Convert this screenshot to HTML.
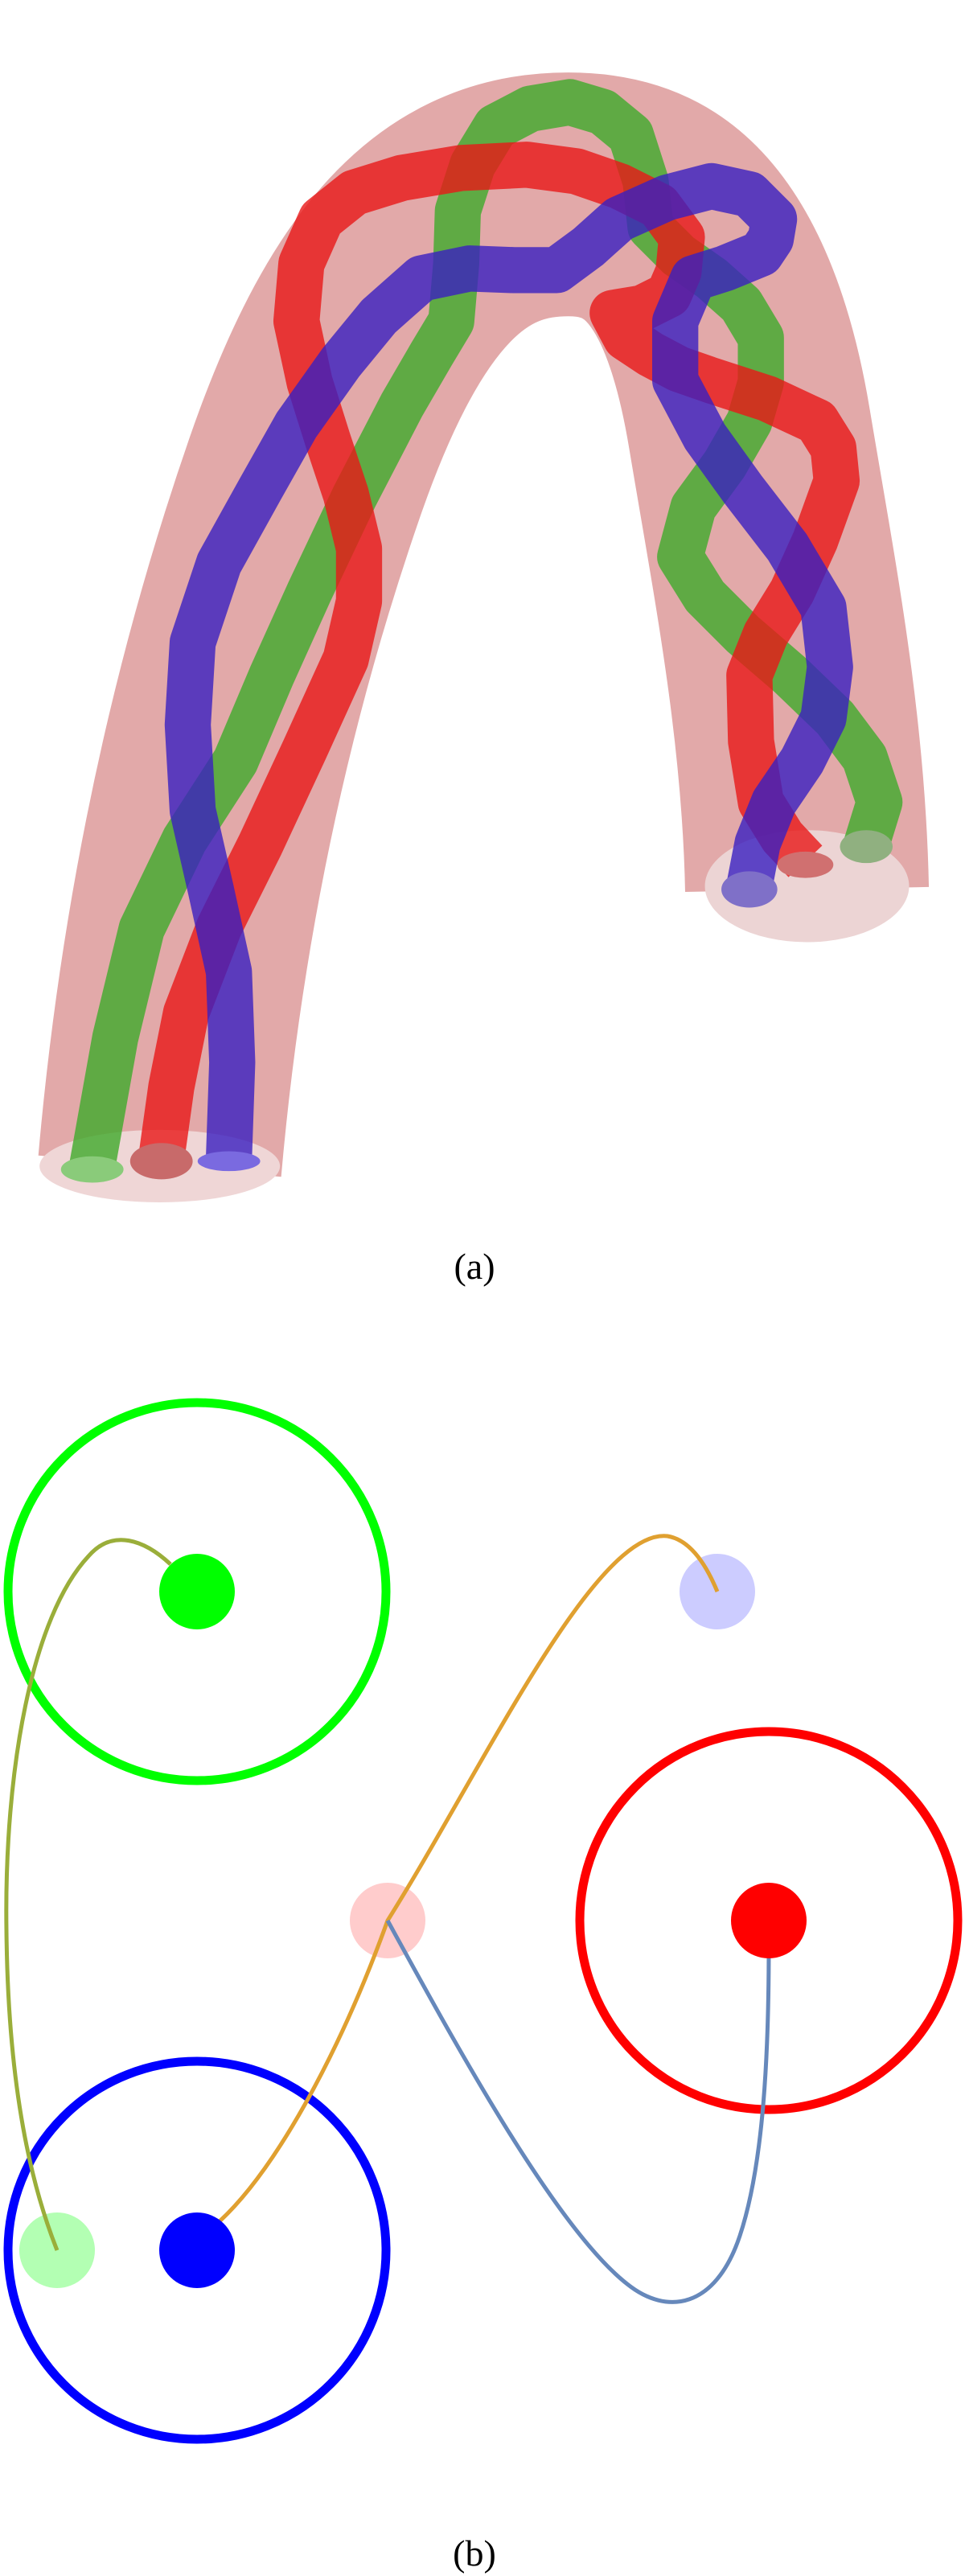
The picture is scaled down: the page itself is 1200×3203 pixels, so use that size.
<!DOCTYPE html>
<html><head><meta charset="utf-8"><style>
html,body{margin:0;padding:0;background:#fff;}
svg{display:block;}
</style></head><body>
<svg width="1200" height="3203" viewBox="0 0 1200 3203" xmlns="http://www.w3.org/2000/svg">
<g transform="scale(2.048)" stroke-linejoin="round" stroke-linecap="butt">
  <path d="M97,708 C110,560 140,420 185,290 C230,160 280,118 345,118 C410,118 440,170 455,260 C470,350 488,440 490,540" fill="none" stroke="#dd9a9a" stroke-opacity="0.85" stroke-width="148"/>
  <ellipse cx="97" cy="708" rx="73" ry="22" fill="#efd6d6"/>
  <ellipse cx="490" cy="538" rx="62" ry="34" fill="#ecd4d4"/>
  <polyline points="56,708 70,630 86,564 112,510 143,462 165,410 188,359 215,302 244,246 262,215 274,195 277,160 278,128 287,100 301,77 322,66 346,62 366,68 383,82 392,110 395,138 412,155 432,169 450,185 462,205 462,232 455,256 440,282 421,308 413,338 428,362 451,385 480,410 507,436 525,460 534,487 526,513" fill="none" stroke="#3faa2a" stroke-opacity="0.8" stroke-width="28"/>
  <polyline points="98,703 104,660 113,615 133,563 158,513 185,455 210,400 218,365 218,333 210,300 199,267 188,232 180,195 183,160 195,133 215,117 244,108 280,102 320,100 350,104 376,113 400,125 414,144 412,165 406,179 390,187 372,190 380,205 395,215 412,224 432,231 466,242 496,256 506,272 508,292 495,328 481,359 465,385 455,410 456,450 462,487 475,508 489,523" fill="none" stroke="#e81818" stroke-opacity="0.8" stroke-width="28"/>
  <polyline points="139,703 141,645 139,590 128,540 117,492 114,440 117,390 133,342 158,297 180,258 207,220 230,192 256,169 285,163 312,164 338,164 357,150 376,133 405,120 432,113 455,118 470,133 468,145 462,154 440,163 421,169 410,195 410,231 428,265 451,297 478,332 500,369 504,405 500,436 487,462 470,487 460,512 455,538" fill="none" stroke="#3a1fc0" stroke-opacity="0.8" stroke-width="28"/>
  <ellipse cx="56" cy="710" rx="19" ry="8" fill="#8acb7a"/>
  <ellipse cx="98" cy="705" rx="19" ry="11" fill="#c86a6a"/>
  <ellipse cx="139" cy="705" rx="19" ry="6" fill="#7a6ae0"/>
  <ellipse cx="455" cy="540" rx="17" ry="11" fill="#7f70c8"/>
  <ellipse cx="489" cy="525" rx="17" ry="8" fill="#d07070"/>
  <ellipse cx="526" cy="514" rx="16" ry="10" fill="#90b080"/>
</g>
<text x="590" y="1590" font-family="'Liberation Serif', serif" font-size="46" text-anchor="middle">(a)</text>

<circle cx="245" cy="1979" r="235" fill="none" stroke="#00ff00" stroke-width="11"/>
<circle cx="956" cy="2388" r="235" fill="none" stroke="#ff0000" stroke-width="11"/>
<circle cx="245" cy="2798" r="235" fill="none" stroke="#0000ff" stroke-width="11"/>
<circle cx="892" cy="1979" r="47" fill="#ccccff"/>
<circle cx="482" cy="2388" r="47" fill="#ffcccc"/>
<circle cx="71" cy="2798" r="47" fill="#b3ffb3"/>
<path d="M212,1945 C180,1915 140,1900 110,1935 C40,2010 5,2200 8,2400 C10,2600 40,2720 71,2798" fill="none" stroke="#9aae3a" stroke-width="5"/>
<path d="M273,2762 C340,2700 420,2560 482,2388 C600,2200 740,1900 830,1910 C860,1915 880,1950 892,1979" fill="none" stroke="#e0a030" stroke-width="5"/>
<path d="M482,2388 C560,2530 690,2770 780,2840 C830,2880 890,2870 920,2780 C950,2690 956,2550 956,2420" fill="none" stroke="#6688bb" stroke-width="5"/>
<circle cx="245" cy="1979" r="47" fill="#00ff00"/>
<circle cx="956" cy="2388" r="47" fill="#ff0000"/>
<circle cx="245" cy="2798" r="47" fill="#0000ff"/>
<text x="590" y="3190" font-family="'Liberation Serif', serif" font-size="46" text-anchor="middle">(b)</text>
</svg>
</body></html>
